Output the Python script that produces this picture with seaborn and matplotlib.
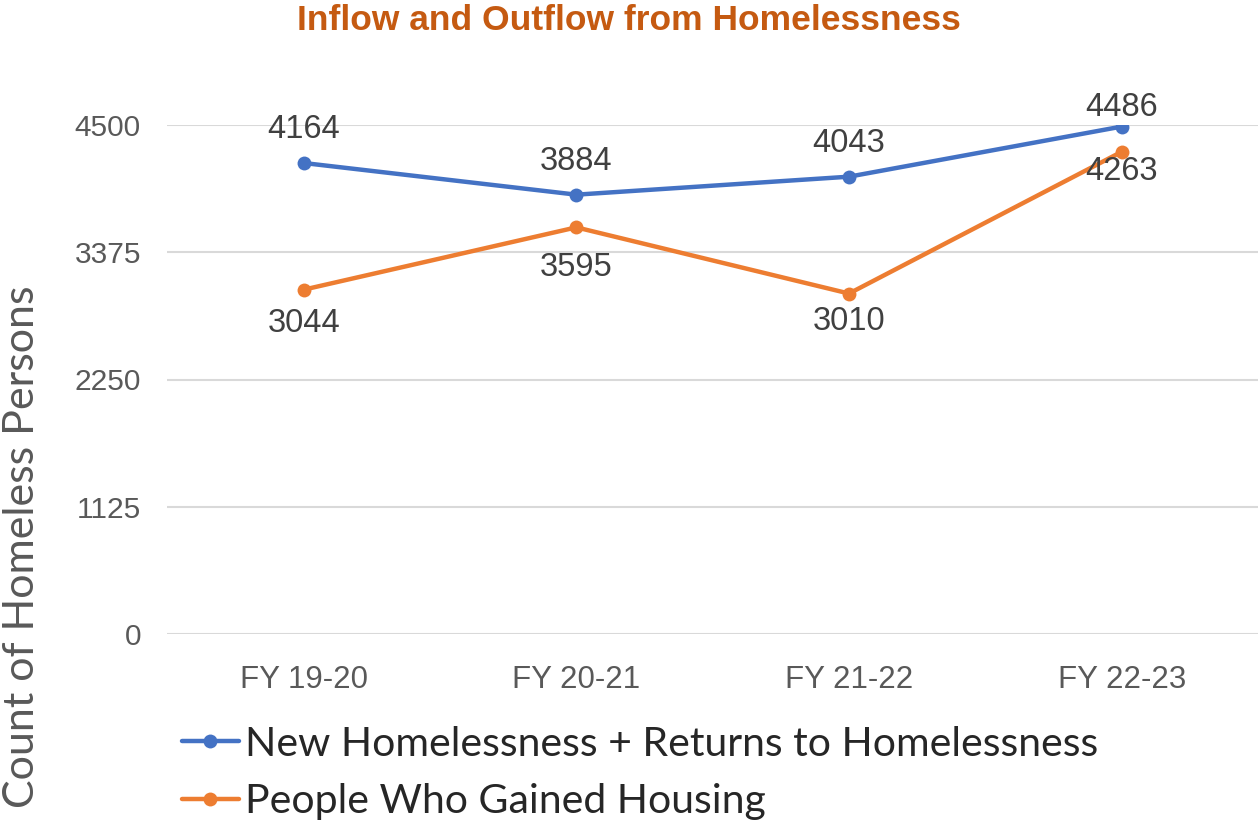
import pandas as pd
import matplotlib.pyplot as plt
import seaborn as sns

years = ["FY 19-20", "FY 20-21", "FY 21-22", "FY 22-23"]
inflow = [4164, 3884, 4043, 4486]
outflow = [3044, 3595, 3010, 4263]
inflow_name = "New Homelessness + Returns to Homelessness"
outflow_name = "People Who Gained Housing"
y_ticks = [0, 1125, 2250, 3375, 4500]

df = pd.DataFrame({
    "year": years * 2,
    "count": inflow + outflow,
    "series": [inflow_name] * len(years) + [outflow_name] * len(years),
})

sns.set_style("white")
plt.rcParams['font.family'] = ['Liberation Sans', 'DejaVu Sans']

fig = plt.figure(figsize=(12.58, 8.25), dpi=100)
ax = fig.add_axes([0.133, 0.2315, 0.867, 0.617])

colors = {inflow_name: "#4472C4", outflow_name: "#ED7D31"}
sns.lineplot(data=df, x="year", y="count", hue="series", palette=colors,
             marker="o", markersize=10, markeredgewidth=0, linewidth=3.2,
             sort=False, ax=ax)

ax.set_xlim(-0.5, len(years) - 0.5)
ax.set_ylim(0, 4500)
ax.set_yticks(y_ticks)
ax.set_yticklabels([str(t) for t in y_ticks])
ax.yaxis.grid(True, color="#D9D9D9", linewidth=1.5)
ax.set_axisbelow(True)
for s in ax.spines.values():
    s.set_visible(False)
ax.tick_params(axis="y", length=0, labelsize=21.5, labelcolor="#595959", pad=19)
ax.tick_params(axis="x", length=0, labelsize=22.5, labelcolor="#595959", pad=22)
ax.set_xlabel("")
ax.set_ylabel("")

# data labels (offsets in points, roughly as placed in the original)
in_off = [24, 24, 24, 14]
out_off = [-24, -29, -20, -14]
for i, v in enumerate(inflow):
    ax.annotate(str(v), (i, v), xytext=(0, in_off[i]), textcoords="offset points",
                ha="center", va="center", fontsize=23.5, color="#404040")
for i, v in enumerate(outflow):
    ax.annotate(str(v), (i, v), xytext=(0, out_off[i]), textcoords="offset points",
                ha="center", va="center", fontsize=23.5, color="#404040")

fig.text(0.5, 0.975, "Inflow and Outflow from Homelessness", ha="center", va="center",
         fontsize=25.5, fontweight="bold", color="#C55A11",
         family=["Liberation Sans Narrow", "Liberation Sans"])

fig.text(0.0175, 0.337, "Count of Homeless Persons", rotation=90, ha="center", va="center",
         fontsize=31, color="#595959", family=["Lato", "DejaVu Sans"])

handles, labels = ax.get_legend_handles_labels()
ax.legend(handles, labels, loc="upper left", bbox_to_anchor=(-0.002, -0.148),
          frameon=False, handlelength=1.4, handletextpad=0.15,
          labelspacing=0.5, borderaxespad=0, prop={"family": "Lato", "size": 29.5})

fig.savefig("out.png", dpi=100)
